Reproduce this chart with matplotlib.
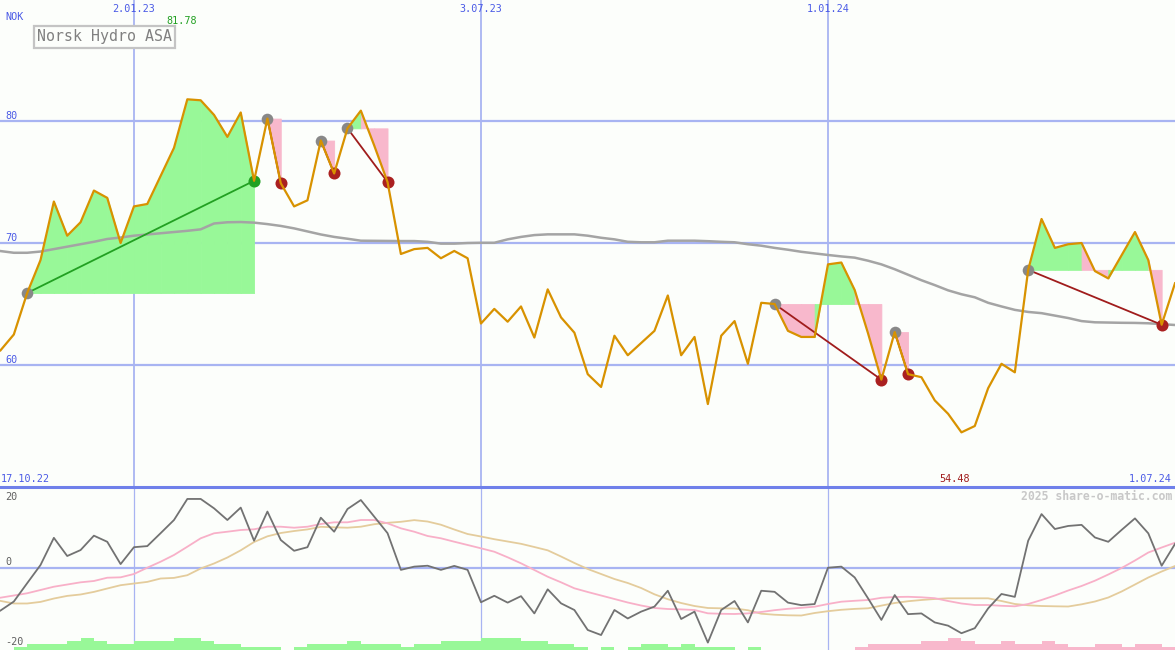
import numpy as np
import pandas as pd
import matplotlib
matplotlib.use("Agg")
import matplotlib.pyplot as plt

plt.rcParams['font.family'] = ['DejaVu Sans Mono']

# weekly closes, 24.10.22 .. 1.07.24
dates = pd.date_range('2022-10-24', periods=89, freq='7D')
price = [61.2, 62.5, 65.9, 68.6, 73.4, 70.6, 71.7, 74.3, 73.7, 70.0,
         73.0, 73.2, 75.5, 77.8, 81.78, 81.7, 80.5, 78.7, 80.7, 75.1,
         80.2, 74.9, 73.0, 73.5, 78.4, 75.7, 79.4, 80.85, 78.0, 75.0,
         69.1, 69.5, 69.6, 68.75, 69.35, 68.75, 63.4, 64.6, 63.55, 64.8,
         62.25, 66.2, 63.9, 62.65, 59.25, 58.2, 62.4, 60.8, 61.8, 62.8,
         65.7, 60.8, 62.3, 56.8, 62.4, 63.6, 60.1, 65.1, 65.0, 62.8,
         62.3, 62.3, 68.25, 68.4, 66.15, 62.6, 58.8, 62.7, 59.25, 59.0,
         57.1, 56.0, 54.48, 55.0, 58.1, 60.1, 59.4, 67.8, 71.97, 69.6,
         69.9, 70.0, 67.7, 67.1, 69.0, 70.9, 68.6, 63.3, 66.7]
avg = [69.34, 69.2, 69.2, 69.3, 69.5, 69.7, 69.9, 70.1, 70.33, 70.45,
       70.6, 70.7, 70.8, 70.9, 71.0, 71.12, 71.6, 71.7, 71.72, 71.67,
       71.55, 71.4, 71.2, 70.95, 70.7, 70.5, 70.35, 70.19, 70.18, 70.17,
       70.16, 70.16, 70.1, 69.95, 69.95, 70.0, 70.02, 70.02, 70.3, 70.5,
       70.65, 70.71, 70.71, 70.71, 70.6, 70.43, 70.3, 70.1, 70.06, 70.06,
       70.19, 70.19, 70.19, 70.15, 70.1, 70.06, 69.9, 69.78, 69.6, 69.45,
       69.28, 69.15, 69.02, 68.9, 68.8, 68.55, 68.25, 67.85, 67.4, 66.95,
       66.55, 66.12, 65.8, 65.55, 65.1, 64.8, 64.52, 64.35, 64.25, 64.05,
       63.85, 63.6, 63.5, 63.48, 63.46, 63.45, 63.42, 63.35, 63.28]

# (start, end, signal at end)
signals = [(2, 19, 'buy'), (20, 21, 'sell'), (24, 25, 'sell'), (26, 29, 'sell'),
           (58, 66, 'sell'), (67, 68, 'sell'), (77, 87, 'sell')]

# lower panel
osc = [-11.9, -9.4, -4.3, 0.75, 8.3, 3.25, 4.9, 8.9, 7.2, 1.0,
       5.7, 6.0, 9.6, 13.25, 19.1, 19.1, 16.5, 13.25, 16.7, 7.5,
       15.6, 7.7, 4.7, 5.7, 13.9, 10.0, 16.3, 18.8, 14.2, 9.6,
       -0.6, 0.3, 0.55, -0.6, 0.5, -0.6, -9.6, -7.8, -9.7, -7.9,
       -12.7, -6.0, -9.9, -11.75, -17.3, -18.7, -11.75, -14.1, -12.2, -10.8,
       -6.4, -14.25, -12.2, -20.8, -11.75, -9.25, -15.2, -6.4, -6.7, -9.7,
       -10.4, -10.1, 0.0, 0.3, -2.7, -8.5, -14.5, -7.6, -12.9, -12.7,
       -15.2, -16.1, -18.2, -16.8, -11.3, -7.3, -8.1, 7.5, 14.9, 10.75,
       11.6, 11.9, 8.4, 7.2, 10.5, 13.7, 9.55, 0.55, 6.6]
osc_fast = [-8.33, -7.72, -7.1, -6.19, -5.28, -4.67, -4.06, -3.69, -2.78, -2.67,
            -1.75, 0.0, 1.67, 3.53, 5.83, 8.17, 9.56, 10.0, 10.47, 10.67,
            11.39, 11.39, 11.11, 11.39, 12.14, 12.61, 12.61, 13.25, 13.25, 12.33,
            10.94, 10.0, 8.81, 8.17, 7.22, 6.31, 5.39, 4.44, 2.89, 1.22,
            -0.64, -2.5, -4.06, -5.72, -6.75, -7.72, -8.69, -9.67, -10.5, -11.19,
            -11.47, -11.58, -11.75, -12.67, -12.8, -12.86, -12.69, -12.3, -11.8, -11.42,
            -11.14, -10.83, -10.08, -9.44, -9.19, -8.97, -8.36, -8.14, -8.08, -8.22,
            -8.47, -9.25, -9.94, -10.36, -10.36, -10.58, -10.72, -10.08, -8.97, -7.72,
            -6.33, -5.08, -3.61, -1.89, -0.08, 2.0, 4.22, 5.61, 6.94]
osc_slow = [-9.22, -9.94, -9.94, -9.5, -8.56, -7.83, -7.44, -6.72, -5.78, -4.86,
            -4.39, -3.94, -3.0, -2.83, -2.08, -0.22, 1.17, 2.83, 4.83, 7.14,
            8.72, 9.64, 10.19, 10.64, 11.36, 11.22, 11.11, 11.39, 12.08, 12.47,
            12.75, 13.22, 12.83, 11.94, 10.61, 9.36, 8.67, 7.92, 7.28, 6.64,
            5.75, 4.83, 3.11, 1.31, -0.36, -1.75, -3.14, -4.25, -5.64, -7.39,
            -8.75, -9.81, -10.64, -11.19, -11.28, -11.33, -11.81, -12.78, -13.06, -13.22,
            -13.28, -12.58, -12.08, -11.69, -11.44, -11.28, -10.53, -9.81, -9.31, -8.97,
            -8.69, -8.5, -8.5, -8.5, -8.5, -9.25, -10.08, -10.44, -10.64, -10.72,
            -10.78, -10.17, -9.39, -8.28, -6.61, -4.67, -2.72, -1.06, 0.47]
bars = [0, 1, 2, 2, 2, 3, 4, 3, 2, 2,
        3, 3, 3, 4, 4, 3, 2, 2, 1, 1,
        1, 0, 1, 2, 2, 2, 3, 2, 2, 2,
        1, 2, 2, 3, 3, 3, 4, 4, 4, 3,
        3, 2, 2, 1, 0, 1, 0, 1, 2, 2,
        1, 2, 1, 1, 1, 0, 1, 0, 0, 0,
        0, 0, 0, 0, -1, -2, -2, -2, -2, -3,
        -3, -4, -3, -2, -2, -3, -2, -2, -3, -2,
        -1, -1, -2, -2, -1, -2, -2, -1, 0]

grid_dates = ['2023-01-02', '2023-07-03', '2024-01-01']
grid_labels = ['2.01.23', '3.07.23', '1.01.24']
price_levels = [60, 70, 80]

BG = '#fcfefb'
GRID = '#a8b4f2'
BLUE = '#4a5ae6'
GREEN_FILL = '#98f898'
PINK_FILL = '#f8b8cc'

fig = plt.figure(figsize=(11.75, 6.5), dpi=100)
fig.patch.set_facecolor(BG)
ax1 = fig.add_axes([0, 163 / 650, 1, 487 / 650])
ax2 = fig.add_axes([0, 0, 1, 163 / 650])
x0 = dates[0] - pd.Timedelta(hours=6)
for ax in (ax1, ax2):
    ax.set_facecolor(BG)
    ax.set_xlim(x0, dates[-1])
    for s in ax.spines.values():
        s.set_visible(False)
    ax.set_xticks([])
    ax.set_yticks([])
    for d in grid_dates:
        ax.axvline(pd.Timestamp(d), color=GRID, lw=1.3 if ax is ax1 else 0.9, zorder=1)

ax1.set_ylim(50.0, 89.92)
ax2.set_ylim(-22.86, 22.42)

# upper panel
for lv in price_levels:
    ax1.axhline(lv, color=GRID, lw=1.6, zorder=1)
    ax1.text(5 / 1175, lv + 0.42, str(lv), transform=ax1.get_yaxis_transform(),
             color=BLUE, fontsize=7.3, va='center', ha='left')

p = np.array(price)
for s, e, kind in signals:
    base = p[s]
    for i in range(s, e):
        col = GREEN_FILL if p[i + 1] >= base else PINK_FILL
        ax1.fill_between(dates[i:i + 2], base, p[i:i + 2], facecolor=col,
                         edgecolor=col, lw=0.6, zorder=2)
    lc = '#22a022' if kind == 'buy' else '#a01c1c'
    ax1.plot([dates[s], dates[e]], [p[s], p[e]], color=lc, lw=1.3, zorder=4)

ax1.plot(dates, avg, color='#a4a4a4', lw=1.8, zorder=3)

for s, e, kind in signals:
    ax1.scatter([dates[s]], [p[s]], s=70, color='#888888', zorder=5, lw=0)
    ax1.scatter([dates[e]], [p[e]], s=75, color='#22a022' if kind == 'buy' else '#aa2020',
                zorder=5, lw=0)

ax1.plot(dates, price, color='#d89200', lw=1.6, zorder=6)

xt = ax1.get_xaxis_transform()
for d, lab in zip(grid_dates, grid_labels):
    ax1.text(pd.Timestamp(d), 1 - 9 / 487, lab, transform=xt, color=BLUE,
             fontsize=7.3, ha='center', va='center')

ax1.text(5 / 1175, 1 - 17 / 487, 'NOK', transform=ax1.transAxes, color=BLUE,
         fontsize=7.3, ha='left', va='center')
ax1.text(1 / 1175, 1 - 479 / 487, '17.10.22', transform=ax1.transAxes, color=BLUE,
         fontsize=7.3, ha='left', va='center')
ax1.text(1172 / 1175, 1 - 479 / 487, '1.07.24', transform=ax1.transAxes, color=BLUE,
         fontsize=7.3, ha='right', va='center')

imax = int(np.argmax(p))
imin = int(np.argmin(p))
ax1.text(dates[imax] - pd.Timedelta(days=3), 1 - 21 / 487, f'{p[imax]:.2f}', transform=xt,
         color='#22a022', fontsize=7.3, ha='center', va='center')
ax1.text(dates[imin] - pd.Timedelta(days=3.5), 1 - 479 / 487, f'{p[imin]:.2f}', transform=xt,
         color='#a01c1c', fontsize=7.3, ha='center', va='center')

ax1.text(37 / 1175, 1 - 37 / 487, 'Norsk Hydro ASA', transform=ax1.transAxes,
         color='#808080', fontsize=10.7, ha='left', va='center',
         bbox=dict(boxstyle='square,pad=0.22', fc=BG, ec='#c4c4c4', lw=1.6))

# lower panel
ax2.axhline(0, color=GRID, lw=1.6, zorder=1)
b = np.abs(np.array(bars, dtype=float)) * 0.806
bcol = [GREEN_FILL if v > 0 else PINK_FILL for v in bars]
ax2.bar(dates, b, width=7, align='edge', bottom=-22.86, color=bcol, lw=0, zorder=2)
ax2.plot(dates, osc_slow, color='#e4cc9c', lw=1.3, zorder=3)
ax2.plot(dates, osc_fast, color='#f8b0c8', lw=1.3, zorder=3)
ax2.plot(dates, osc, color='#727272', lw=1.3, zorder=4)

for val, txt in [(19.7, '20'), (1.67, '0'), (-20.6, '-20')]:
    ax2.text(5 / 1175, val, txt, transform=ax2.get_yaxis_transform(), color='#606060',
             fontsize=7.3, ha='left', va='center')
ax2.text(1172 / 1175, 1 - 9 / 163, '2025 share-o-matic.com', transform=ax2.transAxes,
         color='#c8c8c8', fontsize=8.3, fontweight='bold', ha='right', va='center')
ax2.axhline(22.42, color='#6f80ea', lw=2.2, zorder=5, clip_on=False)

fig.savefig('out.png', dpi=100, facecolor=BG)
